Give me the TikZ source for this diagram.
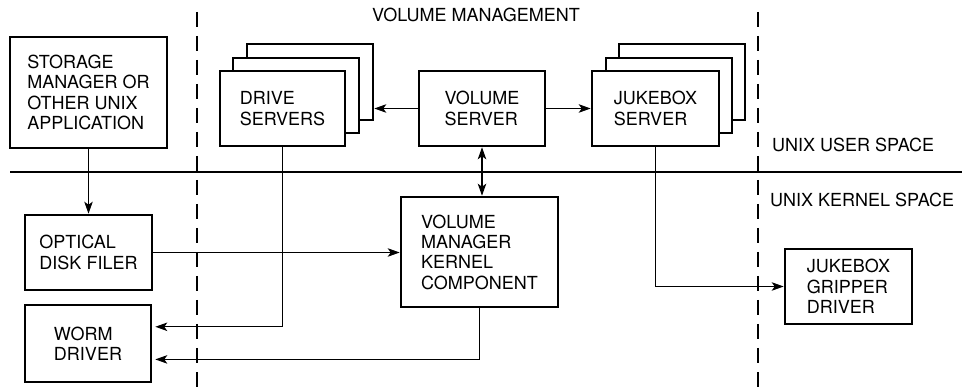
\documentclass[tikz,border=0pt]{standalone}
\usepackage{fontspec}
\setmainfont{TeX Gyre Heros}
\usetikzlibrary{arrows.meta,calc}
\tikzset{
  box/.style={draw, line width=2.6pt, fill=white, inner sep=0pt, align=left,
    font=\fontsize{18}{20.3}\selectfont},
  conn/.style={line width=1.1pt},
  tip/.tip={Stealth[length=12pt,width=8.5pt,inset=3pt]},
  arr/.style={conn, -tip},
  darr/.style={conn, tip-tip},
  divider/.style={line width=1.1pt, dash pattern=on 15pt off 9pt},
  lbl/.style={font=\fontsize{18}{20.3}\selectfont, inner sep=0pt}
}
\begin{document}
\begin{tikzpicture}[x=1pt,y=-1pt]
\useasboundingbox (0,0) rectangle (962,390);
% dividers
\coordinate (hl) at (10,172);
\coordinate (hr) at (962,172);
\coordinate (d1t) at (197,12);
\coordinate (d1b) at (197,390);
\coordinate (d2t) at (758,12);
\coordinate (d2b) at (758,390);
\draw[conn] (hl) -- (hr);
\draw[divider] (d1t) -- (d1b);
\draw[divider] (d2t) -- (d2b);
% labels
\node[lbl] (vm) at (476,15) {VOLUME MANAGEMENT};
\node[lbl, anchor=west] (us) at (772,145) {UNIX USER SPACE};
\node[lbl, anchor=west] (ks) at (770,200) {UNIX KERNEL SPACE};
% boxes
\node[box, minimum width=157pt, minimum height=111pt] (storage) at (88.5,92.5) {STORAGE\\MANAGER OR\\OTHER UNIX\\APPLICATION};
\node[box, minimum width=126pt, minimum height=76pt] (dback) at (310,82) {};
\node[box, minimum width=126pt, minimum height=75pt] (dmid) at (296,95.5) {};
\node[box, minimum width=125pt, minimum height=75pt] (dfront) at (282.5,108.5) {DRIVE\\SERVERS};
\node[box, minimum width=126pt, minimum height=75pt] (vol) at (482,108.5) {VOLUME\\SERVER};
\node[box, minimum width=126pt, minimum height=76pt] (jback) at (682,82) {};
\node[box, minimum width=126pt, minimum height=75pt] (jmid) at (669,95.5) {};
\node[box, minimum width=127pt, minimum height=75pt] (jfront) at (655.5,108.5) {JUKEBOX\\SERVER};
\node[box, minimum width=157pt, minimum height=110pt] (vmkc) at (479.5,252) {VOLUME\\MANAGER\\KERNEL\\COMPONENT};
\node[box, minimum width=127pt, minimum height=75pt] (optical) at (88.5,252.5) {OPTICAL\\DISK FILER};
\node[box, minimum width=126pt, minimum height=77pt] (worm) at (88,343.5) {WORM\\DRIVER};
\node[box, minimum width=127pt, minimum height=75pt] (gripper) at (848.5,286.5) {JUKEBOX\\GRIPPER\\DRIVER};
% connectors
\draw[arr] (storage.south) -- (optical.north);
\draw[arr] (vol.west) -- (vol.west -| dback.east);
\draw[arr] (vol.east) -- (vol.east -| jfront.west);
\draw[darr] (vol.south) -- (vol.south |- vmkc.north);
\draw[arr] (optical.east) -- (optical.east -| vmkc.west);
\draw[arr, shorten >=3pt] (dfront.south) |- ($(worm.north east)!0.29!(worm.south east)$);
\draw[arr, shorten >=3pt] (vmkc.south) |- ($(worm.north east)!0.70!(worm.south east)$);
\draw[arr] (jfront.south) |- (gripper.west);
\end{tikzpicture}
\end{document}
